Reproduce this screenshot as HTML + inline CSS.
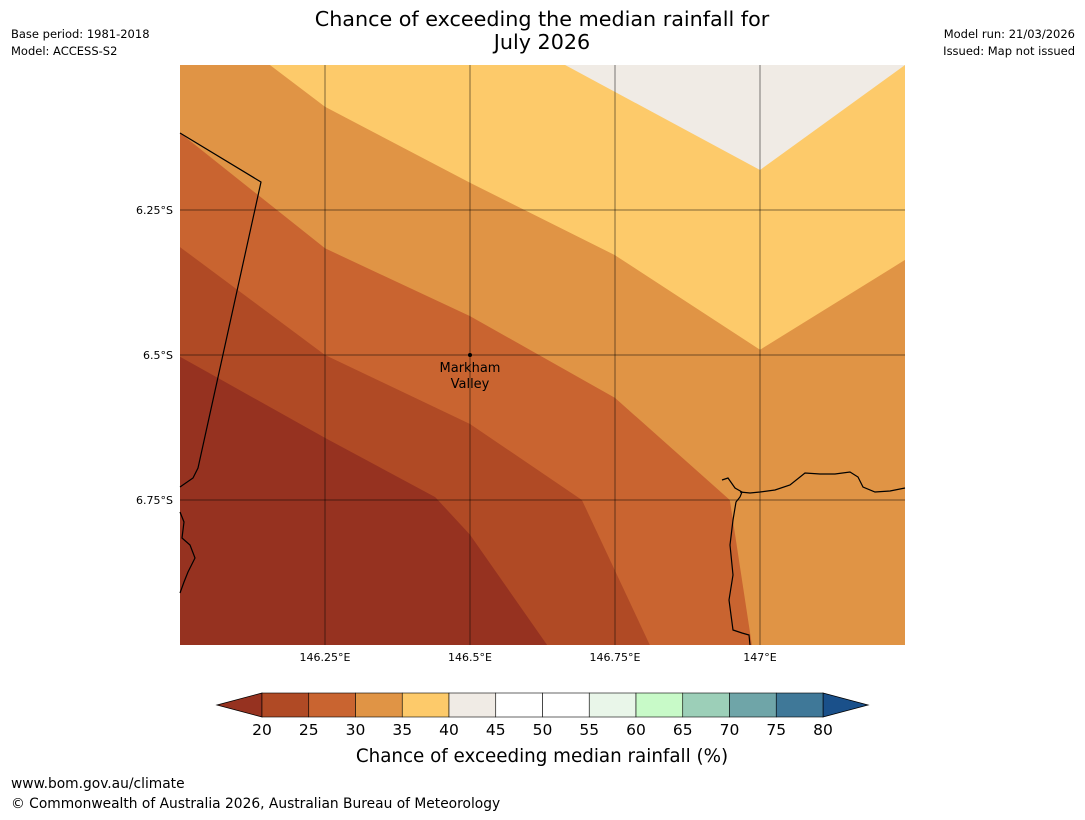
<!DOCTYPE html>
<html><head><meta charset="utf-8"><style>
body{margin:0;background:#fff;width:1085px;height:816px;overflow:hidden;font-family:"DejaVu Sans","Liberation Sans",sans-serif}
</style></head><body>
<svg id="s" width="1085" height="816" xmlns="http://www.w3.org/2000/svg">
<text x="542" y="26" text-anchor="middle" font-size="20.7">Chance of exceeding the median rainfall for</text>
<text x="542" y="49" text-anchor="middle" font-size="20.7">July 2026</text>
<text x="11" y="38" font-size="11.5">Base period: 1981-2018</text>
<text x="11" y="55" font-size="11.5">Model: ACCESS-S2</text>
<text x="1075" y="38" font-size="11.5" text-anchor="end">Model run: 21/03/2026</text>
<text x="1075" y="55" font-size="11.5" text-anchor="end">Issued: Map not issued</text>
<g id="map"></g>
<g id="cb"></g>
<text x="542" y="762" text-anchor="middle" font-size="18.3">Chance of exceeding median rainfall (%)</text>
<text x="11" y="788" font-size="13.8">www.bom.gov.au/climate</text>
<text x="11" y="808" font-size="13.8">© Commonwealth of Australia 2026, Australian Bureau of Meteorology</text>
</svg>
<script>
const lonTicks=[146.25,146.5,146.75,147];
const lonLabels=["146.25°E","146.5°E","146.75°E","147°E"];
const latTicks=[6.25,6.5,6.75];
const latLabels=["6.25°S","6.5°S","6.75°S"];
// contour boundaries [lon, lat(S)]
const b40=[[146.664,6.0],[147.0,6.181],[147.25,6.0]];
const b35=[[146.155,6.0],[146.25,6.072],[146.5,6.203],[146.75,6.328],[147.0,6.491],[147.25,6.336]];
const b30=[[146.0,6.117],[146.25,6.316],[146.5,6.433],[146.75,6.574],[146.948,6.75],[146.986,7.0]];
const b25=[[146.0,6.314],[146.25,6.5],[146.5,6.619],[146.693,6.75],[146.81,7.0]];
const b20=[[146.0,6.503],[146.25,6.643],[146.44,6.745],[146.5,6.81],[146.633,7.0]];
const cbLevels=[20,25,30,35,40,45,50,55,60,65,70,75,80];
const cbColors=["#b04a25","#c96430","#e09445","#fdca6a","#f0ebe5","#ffffff","#ffffff","#e9f6e9","#c8fac8","#9ccfb8","#6fa5a8","#3f7898"];
const X0=180,Y0=65,W=725,H=580,LON0=146,LON1=147.25,LAT0=6,LAT1=7;
const xs=l=>X0+(l-LON0)/(LON1-LON0)*W, ys=l=>Y0+(l-LAT0)/(LAT1-LAT0)*H;
const NS="http://www.w3.org/2000/svg";
const map=document.getElementById('map'),cb=document.getElementById('cb');
function mk(p,t,a){const e=document.createElementNS(NS,t);for(const k in a)e.setAttribute(k,a[k]);p.appendChild(e);return e;}
function pts(arr){return arr.map(p=>xs(p[0]).toFixed(1)+','+ys(p[1]).toFixed(1)).join(' ');}
const TR=[LON1,LAT0],TL=[LON0,LAT0],BR=[LON1,LAT1];
let r=mk(map,'rect',{x:X0,y:Y0,width:W,height:H,fill:'#963220'});


const regions=[[b20.concat([BR,TR,TL]),'#b04a25','region-20-25'],[b25.concat([BR,TR,TL]),'#c96430','region-25-30'],[b30.concat([BR,TR,TL]),'#e09445','region-30-35'],[b35.concat([TR]),'#fdca6a','region-35-40'],[b40,'#f0ebe5','region-40-45']];
regions.forEach(g=>{const e=mk(map,'polygon',{points:pts(g[0]),fill:g[1]});

});
const lines=["180,133 261,182 198,468 193,478 180,487","180,512 184,522 182,538 190,545 195,558 188,572 184,582 180,593",
"722,480 728,478 735,488 742,492 740,497 736,502 733,520 730,545 733,575 729,600 733,630 742,633 749,635 750,645",
"740,492 750,493 760,492 775,490 790,485 805,473 820,474 835,474 850,472 858,477 863,487 875,492 890,491 905,488"];
lines.forEach((l,i)=>{const e=mk(map,'polyline',{points:l,fill:'none',stroke:'#000','stroke-width':1.2});

});
lonTicks.forEach((v,i)=>{const x=xs(v);
const e=mk(map,'line',{x1:x,y1:Y0,x2:x,y2:Y0+H,stroke:'#000','stroke-opacity':0.5,'stroke-width':1});


const t=mk(map,'text',{x:x,y:661,'text-anchor':'middle','font-size':11});t.textContent=lonLabels[i];

});
latTicks.forEach((v,i)=>{const y=ys(v);
const e=mk(map,'line',{x1:X0,y1:y,x2:X0+W,y2:y,stroke:'#000','stroke-opacity':0.5,'stroke-width':1});


const t=mk(map,'text',{x:173,y:y+4,'text-anchor':'end','font-size':11});t.textContent=latLabels[i];

});
const dot=mk(map,'circle',{cx:xs(146.5),cy:ys(6.5),r:2,fill:'#000'});


const t1=mk(map,'text',{x:xs(146.5),y:372,'text-anchor':'middle','font-size':13});t1.textContent='Markham';


const t2=mk(map,'text',{x:xs(146.5),y:388,'text-anchor':'middle','font-size':13});t2.textContent='Valley';


const CX0=262,CX1=823,CY=693,CH=24;
const cx=v=>CX0+(v-cbLevels[0])/(cbLevels[cbLevels.length-1]-cbLevels[0])*(CX1-CX0);
const lo=mk(cb,'polygon',{points:`${CX0},${CY} 217,${CY+CH/2} ${CX0},${CY+CH}`,fill:'#963220',stroke:'#000','stroke-width':0.8});


const hi=mk(cb,'polygon',{points:`${CX1},${CY} 868,${CY+CH/2} ${CX1},${CY+CH}`,fill:'#1a508a',stroke:'#000','stroke-width':0.8});


cbColors.forEach((c,i)=>{const e=mk(cb,'rect',{x:cx(cbLevels[i]),y:CY,width:cx(cbLevels[i+1])-cx(cbLevels[i]),height:CH,fill:c,stroke:'#000','stroke-width':0.6});

});
cbLevels.forEach(v=>{const t=mk(cb,'text',{x:cx(v),y:735,'text-anchor':'middle','font-size':15.5});t.textContent=v;

});
</script>
</body></html>
